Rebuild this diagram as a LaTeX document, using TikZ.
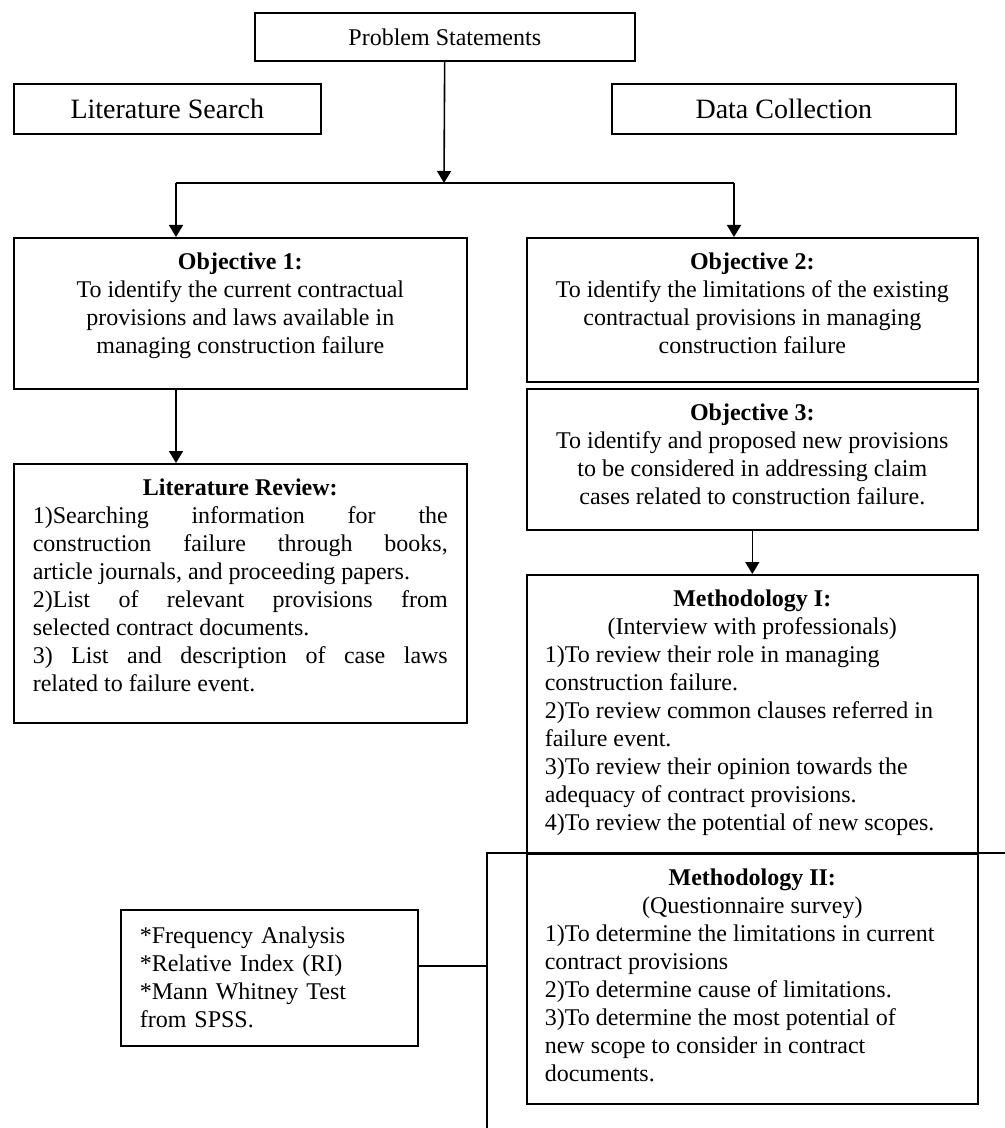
\documentclass[tikz,border=0pt]{standalone}
\usepackage{fontspec}
\setmainfont{Liberation Serif}
\usetikzlibrary{arrows.meta}
\newcommand{\inbox}[4]{\parbox[c][#2][t]{#1}{\vspace*{6pt}\centering\begin{minipage}[t]{#3}\strut#4\end{minipage}}}
\begin{document}
\begin{tikzpicture}[x=0.5pt, y=-0.5pt,
  box/.style={draw, line width=0.8pt, inner sep=0pt, anchor=north west, font=\fontsize{12}{14}\selectfont},
  arr/.style={-{Triangle[length=6pt,width=7pt]}, line width=0.8pt},
  wire/.style={line width=0.8pt}]
\useasboundingbox (0,0) rectangle (1005,1128);

\node[box, minimum width=190pt, minimum height=24pt] (ps) at (254,12) {Problem Statements};
\node[box, minimum width=153.5pt, minimum height=25pt, font=\fontsize{14}{16}\selectfont] (ls) at (13,83) {Literature Search};
\node[box, minimum width=172pt, minimum height=25pt, font=\fontsize{14}{16}\selectfont] (dc) at (611,83) {Data Collection};

\node[box] (obj1) at (13,237) {\inbox{226.5pt}{75.5pt}{208pt}{\centering\textbf{Objective 1:}\\To identify the current contractual\\provisions and laws available in\\managing construction failure}};
\node[box] (obj2) at (526,237) {\inbox{225.5pt}{72pt}{208pt}{\centering\textbf{Objective 2:}\\To identify the limitations of the existing\\contractual provisions in managing\\construction failure}};
\node[box] (obj3) at (526,388) {\inbox{225.5pt}{70.5pt}{208pt}{\centering\textbf{Objective 3:}\\To identify and proposed new provisions\\to be considered in addressing claim\\cases related to construction failure.}};

\node[box] (lr) at (13,463) {\inbox{226.5pt}{129.5pt}{207.5pt}{{\centering\textbf{Literature Review:}\par}
1)Searching information for the\linebreak construction failure through books,\linebreak article journals, and proceeding papers.\par
2)List of relevant provisions from\linebreak selected contract documents.\par
3) List and description of case laws\linebreak related to failure event.\par}};

\node[box] (meth1) at (526,574) {\inbox{225.5pt}{139.5pt}{207.5pt}{{\centering\textbf{Methodology I:}\\(Interview with professionals)\par}
\raggedright 1)To review their role in managing\\construction failure.\\2)To review common clauses referred in\\failure event.\\3)To review their opinion towards the\\adequacy of contract provisions.\\4)To review the potential of new scopes.\par}};
\node[box] (meth2) at (526,853) {\inbox{225.5pt}{125pt}{207.5pt}{{\centering\textbf{Methodology II:}\\(Questionnaire survey)\par}
\raggedright 1)To determine the limitations in current\\contract provisions\\2)To determine cause of limitations.\\3)To determine the most potential of\\new scope to consider in contract\\documents.\par}};

\node[box, align=left, text width=129.5pt, inner xsep=9.5pt, minimum height=68pt] (stats) at (120,909) {*Frequency Analysis\\{}*Relative Index (RI)\\{}*Mann Whitney Test\\from SPSS.};

\coordinate (split) at (444,183);
\coordinate (left) at (176,183);
\coordinate (right) at (734,183);
\coordinate (tap) at (487,966);

\draw[arr] (ps) -- (split);
\draw[wire] (left) -- (right);
\draw[arr] (left) -- (left |- obj1.north);
\draw[arr] (right) -- (right |- obj2.north);
\draw[arr] (left |- obj1.south) -- (left |- lr.north);
\draw[arr] (obj3) -- (meth1);

\draw[wire] (487,1128) -- (487,853) -- (1005,853);
\draw[wire] (stats.east |- tap) -- (tap);
\end{tikzpicture}
\end{document}
